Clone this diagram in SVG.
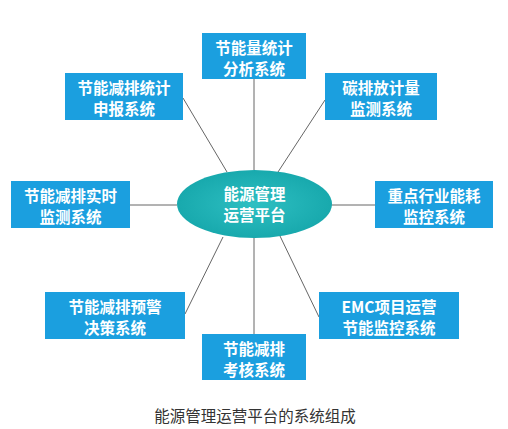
<svg xmlns="http://www.w3.org/2000/svg" width="508" height="429" viewBox="0 0 508 429">
<defs>
<style>
.box{fill:#1b9fdf;}
.bt{font-family:"Noto Sans CJK SC","Liberation Sans",sans-serif;font-size:15.5px;font-weight:bold;fill:#ffffff;text-anchor:middle;}
.ln{stroke:#666666;stroke-width:1;fill:none;}
.cap{font-family:"Noto Sans CJK SC","Liberation Sans",sans-serif;font-size:15.5px;fill:#333333;text-anchor:middle;}
</style>
<radialGradient id="eg" cx="0.5" cy="0.5" r="0.5">
<stop offset="0" stop-color="#2ebfc2"/>
<stop offset="1" stop-color="#18a9ad"/>
</radialGradient>
</defs>
<rect width="508" height="429" fill="#ffffff"/>
<g id="connectors">
<line class="ln" x1="254" y1="79" x2="254" y2="170"/>
<line class="ln" x1="254" y1="238" x2="254" y2="334"/>
<line class="ln" x1="183" y1="98" x2="227" y2="172"/>
<line class="ln" x1="325" y1="100" x2="278" y2="172"/>
<line class="ln" x1="130" y1="205" x2="177" y2="205"/>
<line class="ln" x1="331" y1="205" x2="375" y2="205"/>
<line class="ln" x1="185" y1="314" x2="223" y2="237"/>
<line class="ln" x1="280" y1="236" x2="319" y2="317"/>
</g>
<g id="center">
<ellipse cx="254.5" cy="204" rx="77.5" ry="34" fill="url(#eg)"/>
<text class="bt" x="254.5" y="200">能源管理</text>
<text class="bt" x="254.5" y="221">运营平台</text>
</g>
<g id="n1">
<rect class="box" x="202" y="33" width="104" height="46"/>
<text class="bt" x="254" y="54">节能量统计</text>
<text class="bt" x="254" y="75">分析系统</text>
</g>
<g id="n2">
<rect class="box" x="65" y="73" width="118" height="47"/>
<text class="bt" x="124" y="94">节能减排统计</text>
<text class="bt" x="124" y="115">申报系统</text>
</g>
<g id="n3">
<rect class="box" x="325" y="73" width="112" height="47"/>
<text class="bt" x="381" y="94">碳排放计量</text>
<text class="bt" x="381" y="115">监测系统</text>
</g>
<g id="n4">
<rect class="box" x="11" y="181" width="119" height="47"/>
<text class="bt" x="70.5" y="202">节能减排实时</text>
<text class="bt" x="70.5" y="223">监测系统</text>
</g>
<g id="n5">
<rect class="box" x="375" y="181" width="118" height="47"/>
<text class="bt" x="434" y="202">重点行业能耗</text>
<text class="bt" x="434" y="223">监控系统</text>
</g>
<g id="n6">
<rect class="box" x="45" y="292" width="140" height="47"/>
<text class="bt" x="115" y="313">节能减排预警</text>
<text class="bt" x="115" y="334">决策系统</text>
</g>
<g id="n7">
<rect class="box" x="319" y="292" width="140" height="47"/>
<text class="bt" x="389" y="313">EMC项目运营</text>
<text class="bt" x="389" y="334">节能监控系统</text>
</g>
<g id="n8">
<rect class="box" x="202" y="334" width="104" height="46"/>
<text class="bt" x="254" y="355">节能减排</text>
<text class="bt" x="254" y="376">考核系统</text>
</g>
<text class="cap" x="255" y="422">能源管理运营平台的系统组成</text>
</svg>
